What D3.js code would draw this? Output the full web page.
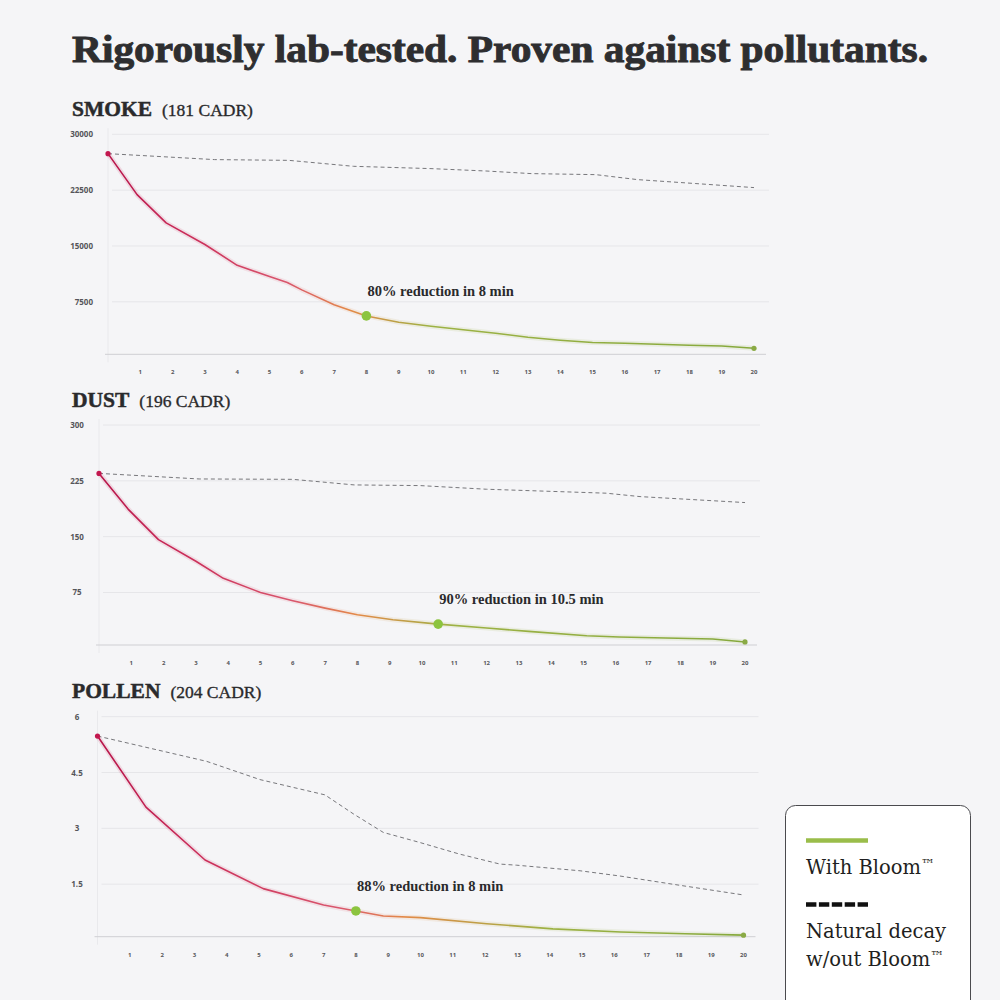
<!DOCTYPE html>
<html>
<head>
<meta charset="utf-8">
<script src="https://cdn.jsdelivr.net/npm/d3@7"></script>
<style>
  body { margin: 0; background: #f5f5f7; }
  svg { display: block; }
</style>
</head>
<body>
<div id="chart"></div>
<script>
// ---- data ----
var titleText = "Rigorously lab-tested. Proven against pollutants.";
var minuteTicks = d3.range(1, 21);

var panelNames = ["SMOKE", "DUST", "POLLEN"];
var panelCadr = ["(181 CADR)", "(196 CADR)", "(204 CADR)"];
var panelMax = [30000, 300, 6];
var panelTicks = [
    [7500, 15000, 22500, 30000],
    [75, 150, 225, 300],
    [1.5, 3, 4.5, 6]
];

// [minute, value]
var smokeWith = [[0, 27400], [0.9, 21900], [1.8, 18100], [3, 15200], [4, 12400], [5, 10900], [5.55, 10080],
    [6, 9100], [7, 7100], [8, 5600], [9, 4750], [10, 4210], [11, 3740], [12, 3270], [13, 2730], [14, 2330],
    [15, 2020], [16, 1930], [17, 1790], [18, 1660], [19, 1560], [20, 1250]];
var smokeWithout = [[0, 27400], [3.3, 26600], [5.6, 26500], [7.6, 25700], [10, 25390], [11.7, 25070],
    [13.1, 24720], [15.1, 24580], [16.4, 23910], [18.2, 23380], [20, 22840]];

var dustWith = [[0, 235], [0.9, 187], [1.84, 146], [3, 117], [3.85, 94], [5, 75], [6, 64], [7, 54], [8, 45],
    [9.1, 38.4], [10.5, 32.5], [12, 27.2], [13.3, 22.7], [15.1, 16.9], [16.1, 15.2], [19, 12.5], [20, 8.5]];
var dustWithout = [[0, 235], [3.1, 227.5], [6, 227], [7.9, 219.5], [9.94, 218.6], [12, 213.7],
    [15.7, 208.4], [16.75, 203.8], [20, 195.8]];

var pollenWith = [[0, 5.48], [1.5, 3.57], [3.33, 2.15], [5.13, 1.38], [7, 0.94], [8, 0.78], [8.85, 0.645],
    [10, 0.6], [12.05, 0.437], [14.1, 0.30], [16.2, 0.213], [18.2, 0.167], [20, 0.13]];
var pollenWithout = [[0, 5.48], [3.38, 4.80], [5.03, 4.31], [7.04, 3.90], [7.92, 3.39], [8.85, 2.89],
    [9.98, 2.62], [11.2, 2.31], [12.46, 2.04], [12.98, 2.01], [14.94, 1.86], [16.17, 1.72], [17.8, 1.50], [20, 1.21]];

var withSeries = [smokeWith, dustWith, pollenWith];
var withoutSeries = [smokeWithout, dustWithout, pollenWithout];

var notes = ["80% reduction in 8 min", "90% reduction in 10.5 min", "88% reduction in 8 min"];
var noteAt = [[8, 5600], [10.5, 32.5], [8, 0.78]];
// where the line colour turns orange / green (minutes)
var orangeAt = [7.5, 8, 9.5];
var greenAt = [10, 11, 14];

var legendLabels = ["With Bloom™", "Natural decay", "w/out Bloom™"];

// ---- layout ----
var panelTop = [134.3, 425, 716.7],
    panelLeft = [108, 99, 97.5],
    plotW = 646,
    plotH = 223.3,
    tickX = [93, 77, 77],
    tickAnchor = ["end", "middle", "middle"];

var serif = "'Liberation Serif', 'DejaVu Serif', serif";
var wideSerif = "'DejaVu Serif', serif";
var sans = "'Open Sans', 'Noto Sans', sans-serif";

var svg = d3.select("#chart")
    .append("svg")
    .attr("width", 1000)
    .attr("height", 1000);

svg.append("rect")
    .attr("width", 1000).attr("height", 1000)
    .attr("fill", "#f5f5f7");

svg.append("text")
    .attr("x", 72).attr("y", 62)
    .attr("textLength", 856)
    .attr("lengthAdjust", "spacingAndGlyphs")
    .style("font-family", serif)
    .style("font-weight", "bold")
    .style("font-size", "37px")
    .attr("fill", "#2e2e30")
    .attr("stroke", "#2e2e30")
    .attr("stroke-width", 0.9)
    .text(titleText);

var defs = svg.append("defs");

panelNames.forEach(function(name, i) {
    var x = d3.scaleLinear().domain([0, 20]).range([panelLeft[i], panelLeft[i] + plotW]);
    var y = d3.scaleLinear().domain([0, panelMax[i]]).range([panelTop[i] + plotH, panelTop[i]]);
    var base = y(0) - 3.3;

    var g = svg.append("g").attr("class", "panel");

    // header
    var head = g.append("text")
        .attr("x", 72).attr("y", panelTop[i] - 18.5)
        .style("font-family", serif)
        .attr("fill", "#2a2a2c");
    head.append("tspan")
        .style("font-weight", "bold").style("font-size", "21.5px")
        .attr("stroke", "#2a2a2c").attr("stroke-width", 0.5)
        .text(name);
    head.append("tspan")
        .attr("dx", 10)
        .style("font-size", "17.5px")
        .attr("stroke", "#2a2a2c").attr("stroke-width", 0.35)
        .text(panelCadr[i]);

    // grid
    g.selectAll(".grid")
        .data(panelTicks[i])
        .enter().append("line")
        .attr("x1", x(0) + 4).attr("x2", x(20) + 15)
        .attr("y1", function(d) { return y(d) }).attr("y2", function(d) { return y(d) })
        .attr("stroke", "#e6e6e9").attr("stroke-width", 1);

    g.append("line")
        .attr("x1", x(0)).attr("x2", x(0))
        .attr("y1", panelTop[i] - 6).attr("y2", base + 8)
        .attr("stroke", "#e9e9ec").attr("stroke-width", 1);

    g.append("line")
        .attr("x1", x(0) - 3).attr("x2", x(20) + 12)
        .attr("y1", base).attr("y2", base)
        .attr("stroke", "#cfcfd3").attr("stroke-width", 1);

    // y tick labels
    g.selectAll(".ytick")
        .data(panelTicks[i])
        .enter().append("text")
        .attr("x", tickX[i])
        .attr("y", function(d) { return y(d) + 3 })
        .attr("text-anchor", tickAnchor[i])
        .style("font-family", sans).style("font-size", "8px").style("font-weight", 700)
        .attr("fill", "#55555a")
        .text(function(d) { return d3.format("")(d) });

    // x tick labels
    g.selectAll(".xtick")
        .data(minuteTicks)
        .enter().append("text")
        .attr("x", function(d) { return x(d) })
        .attr("y", base + 20)
        .attr("text-anchor", "middle")
        .style("font-family", sans).style("font-size", "6px").style("font-weight", 700)
        .attr("fill", "#55555a")
        .text(function(d) { return d });

    // gradient for the "with" line
    var grad = defs.append("linearGradient")
        .attr("id", "grad" + i)
        .attr("gradientUnits", "userSpaceOnUse")
        .attr("x1", x(0)).attr("x2", x(20))
        .attr("y1", 0).attr("y2", 0);
    var stops = [
        [0, "#b8154a"],
        [0.3 * orangeAt[i] / 20, "#c92a58"],
        [(orangeAt[i] - 2) / 20, "#d9566d"],
        [orangeAt[i] / 20, "#e38a48"],
        [greenAt[i] / 20, "#9db244"],
        [1, "#86a93d"]
    ];
    grad.selectAll("stop")
        .data(stops)
        .enter().append("stop")
        .attr("offset", function(d) { return d[0] })
        .attr("stop-color", function(d) { return d[1] });

    var line = d3.line()
        .x(function(d) { return x(d[0]) })
        .y(function(d) { return y(d[1]) });

    // natural decay (dashed)
    g.append("path")
        .datum(withoutSeries[i])
        .attr("d", line)
        .attr("fill", "none")
        .attr("stroke", "#77777b")
        .attr("stroke-width", 1)
        .attr("stroke-dasharray", "4,3");

    // with bloom: soft glow + line
    g.append("path")
        .datum(withSeries[i])
        .attr("d", line)
        .attr("fill", "none")
        .attr("stroke", "url(#grad" + i + ")")
        .attr("stroke-width", 5)
        .attr("stroke-opacity", 0.12)
        .attr("stroke-linejoin", "round");

    g.append("path")
        .datum(withSeries[i])
        .attr("d", line)
        .attr("fill", "none")
        .attr("stroke", "url(#grad" + i + ")")
        .attr("stroke-width", 1.6)
        .attr("stroke-linejoin", "round");

    var first = withSeries[i][0],
        last = withSeries[i][withSeries[i].length - 1];

    g.append("circle")
        .attr("cx", x(first[0])).attr("cy", y(first[1])).attr("r", 2.6)
        .attr("fill", "#c2174e");
    g.append("circle")
        .attr("cx", x(last[0])).attr("cy", y(last[1])).attr("r", 2.6)
        .attr("fill", "#8aaa45");

    g.append("circle")
        .attr("cx", x(noteAt[i][0])).attr("cy", y(noteAt[i][1])).attr("r", 4.8)
        .attr("fill", "#8cc43f");

    g.append("text")
        .attr("x", x(noteAt[i][0]) + 1)
        .attr("y", y(noteAt[i][1]) - 20)
        .style("font-family", serif).style("font-weight", "bold").style("font-size", "14.5px")
        .attr("fill", "#2a2a2c")
        .text(notes[i]);
});

// ---- legend ----
var legend = svg.append("g").attr("class", "legend");

legend.append("rect")
    .attr("x", 785.5).attr("y", 805.5)
    .attr("width", 185).attr("height", 230)
    .attr("rx", 10)
    .attr("fill", "#ffffff")
    .attr("stroke", "#4a4a4e")
    .attr("stroke-width", 1);

legend.append("line")
    .attr("x1", 806).attr("x2", 868)
    .attr("y1", 840.5).attr("y2", 840.5)
    .attr("stroke", "#9abd4a").attr("stroke-width", 4.5);

legend.append("line")
    .attr("x1", 806).attr("x2", 868)
    .attr("y1", 904.5).attr("y2", 904.5)
    .attr("stroke", "#111").attr("stroke-width", 4.5)
    .attr("stroke-dasharray", "10.4,2.5");

var lbl = legend.selectAll(".lbl")
    .data(legendLabels)
    .enter().append("text")
    .attr("x", 806)
    .attr("y", function(d, j) { return [874, 938, 966][j] })
    .style("font-family", wideSerif).style("font-size", "19.5px")
    .attr("fill", "#1f1f21");

lbl.append("tspan")
    .text(function(d) { return d.replace("™", "") });
lbl.filter(function(d) { return d.indexOf("™") >= 0 })
    .append("tspan")
    .attr("dy", -5)
    .style("font-size", "14px")
    .text("™");
</script>
</body>
</html>
